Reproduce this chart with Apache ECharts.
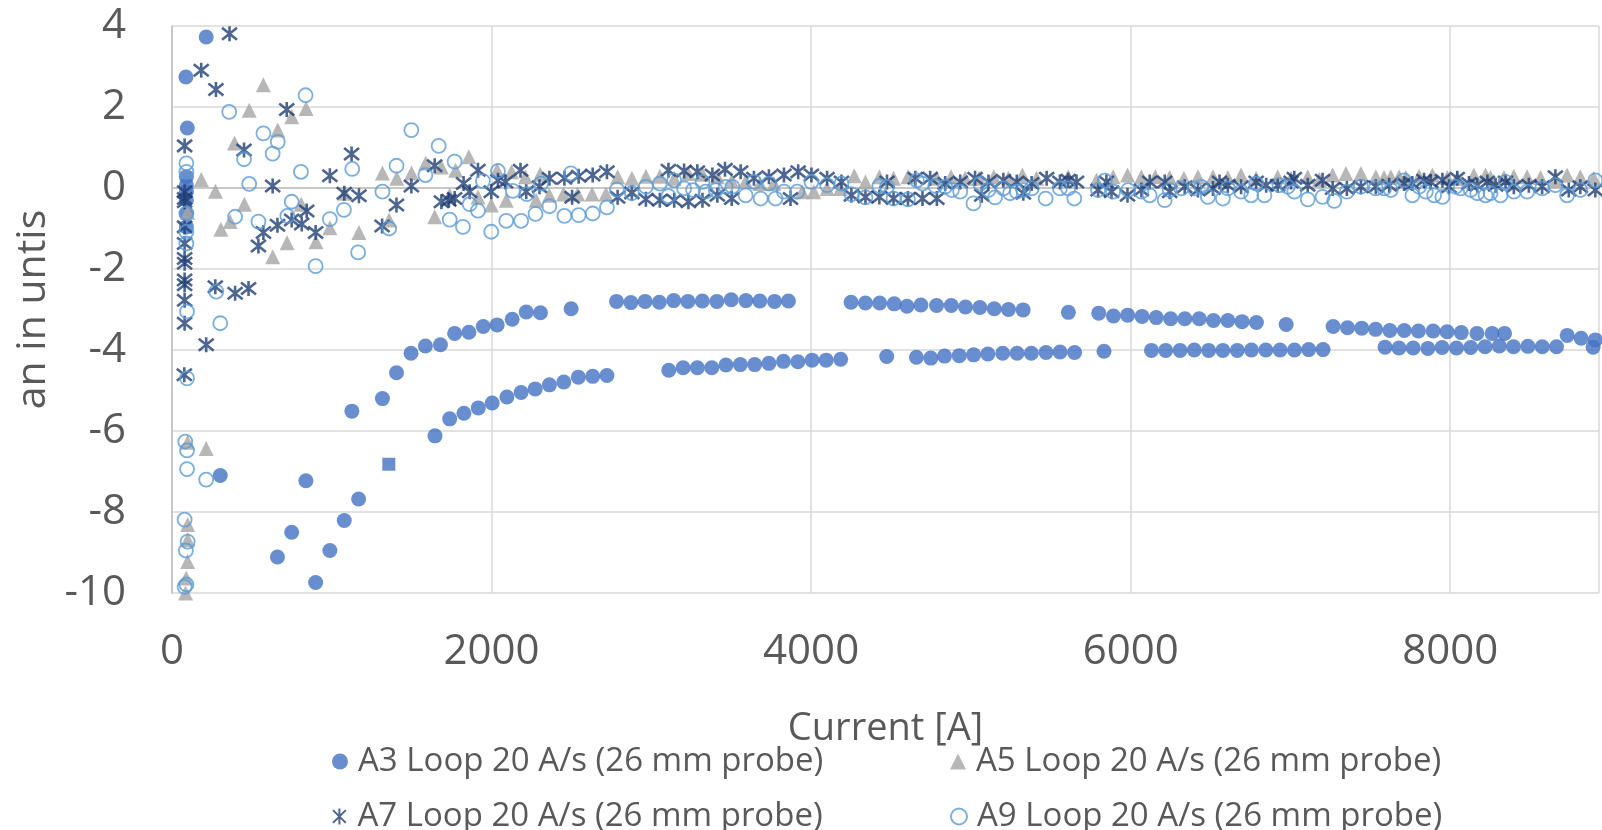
<!DOCTYPE html>
<html>
<head>
<meta charset="utf-8">
<title>an vs Current</title>
<script src="https://cdn.jsdelivr.net/npm/echarts@6/dist/echarts.min.js"></script>
<style>
  html, body { margin: 0; padding: 0; background: #ffffff; }
  #chart { width: 1602px; height: 830px; }
</style>
</head>
<body>
<div id="chart"></div>
<script>
// Axis setup
const xTicks = [0, 2000, 4000, 6000, 8000];
const yTicks = [-10, -8, -6, -4, -2, 0, 2, 4];

const seriesNames = [
  'A3 Loop 20 A/s (26 mm probe)',
  'A5 Loop 20 A/s (26 mm probe)',
  'A7 Loop 20 A/s (26 mm probe)',
  'A9 Loop 20 A/s (26 mm probe)'
];

// A3 – current [A] and an [units]
const a3Current = [
  87, 214, 96, 90, 90, 90, 90, 90, 90,
  302, 660, 749, 838, 899, 988, 1078, 1168, 1126, 1317, 1357, 1405, 1496, 1586, 1680, 1769, 1858, 1948, 2035, 2129, 2217, 2306, 2498,
  2782, 2872, 2961, 3050, 3140, 3229, 3319, 3410, 3500, 3592, 3679, 3771, 3858,
  4250, 4340, 4429, 4520, 4600, 4687, 4785, 4877, 4966, 5056, 5146, 5235, 5327, 5610, 5800, 5892, 5981, 6071, 6160, 6250, 6339, 6429, 6518, 6608, 6697, 6787, 6973,
  7267, 7357, 7446, 7533, 7622, 7712, 7801, 7893, 7980, 8069, 8167, 8262, 8340, 8732, 8819, 8908,
  1646, 1738, 1827, 1917, 2004, 2096, 2185, 2273, 2362, 2452, 2543, 2633, 2722,
  3109, 3199, 3288, 3378, 3467, 3557, 3647, 3736, 3827, 3917, 4006, 4094, 4185, 4473,
  4659, 4749, 4835, 4927, 5017, 5106, 5199, 5289, 5378, 5470, 5558, 5649, 5833,
  6130, 6219, 6309, 6398, 6488, 6577, 6667, 6756, 6846, 6935, 7025, 7114, 7204,
  7592, 7679, 7768, 7860, 7949, 8039, 8128, 8218, 8307, 8396, 8486, 8576, 8665, 8894
];
const a3Value = [
  2.74, 3.73, 1.48, 0.28, 0.07, -0.09, -0.30, -0.63, -0.96,
  -7.10, -9.11, -8.50, -7.23, -9.74, -8.95, -8.21, -7.68, -5.51, -5.20, -6.82, -4.56, -4.08, -3.90, -3.87, -3.59, -3.56, -3.42, -3.38, -3.24, -3.06, -3.08, -2.98,
  -2.80, -2.83, -2.80, -2.82, -2.78, -2.80, -2.79, -2.80, -2.76, -2.78, -2.79, -2.80, -2.79,
  -2.82, -2.84, -2.84, -2.86, -2.92, -2.89, -2.90, -2.90, -2.94, -2.95, -2.98, -3.00, -3.01, -3.07, -3.09, -3.16, -3.14, -3.17, -3.20, -3.23, -3.23, -3.23, -3.27, -3.27, -3.30, -3.32, -3.37,
  -3.42, -3.45, -3.46, -3.49, -3.52, -3.52, -3.53, -3.53, -3.55, -3.57, -3.59, -3.59, -3.59, -3.64, -3.71, -3.75,
  -6.12, -5.70, -5.56, -5.43, -5.31, -5.16, -5.05, -4.96, -4.86, -4.79, -4.67, -4.65, -4.63,
  -4.50, -4.44, -4.44, -4.44, -4.37, -4.36, -4.36, -4.33, -4.28, -4.29, -4.25, -4.25, -4.23, -4.16,
  -4.18, -4.20, -4.15, -4.14, -4.12, -4.10, -4.08, -4.08, -4.08, -4.06, -4.05, -4.06, -4.03,
  -4.01, -4.01, -4.01, -4.00, -4.01, -4.01, -4.01, -4.00, -4.00, -4.00, -4.00, -3.99, -3.99,
  -3.93, -3.95, -3.95, -3.96, -3.94, -3.95, -3.94, -3.92, -3.90, -3.92, -3.91, -3.92, -3.92, -3.93
];
// the one A3 reading shown with a square marker
const a3SquareIndex = 19;

// A5
const a5Current = [
  85, 89, 98, 98, 98, 98, 214, 98, 183, 272, 306, 364, 391, 453, 483, 572, 630, 662, 720, 749, 809, 839, 901, 988, 1080, 1170,
  1317, 1359, 1407, 1499, 1588, 1644, 1686, 1738, 1775, 1858, 1915, 1998, 2035, 2092, 2125, 2212, 2279, 2304, 2362,
  2450, 2539, 2629, 2716, 2789, 2878, 2966, 3053, 3143, 3232, 3320, 3413, 3503, 3590, 3680, 3767, 3944, 4017, 4100, 4183, 4270,
  4340, 4427, 4516, 4606, 4787, 4876, 4964, 5051, 5143, 5234, 5322, 5411, 5609, 5786, 5890, 5980, 6067, 6154, 6244, 6333, 6421, 6515, 6608, 6691, 6785,
  6920, 7004, 7108, 7181, 7264, 7347, 7441, 7534, 7586, 7628, 7680, 7722, 7805, 7888, 7982, 8044, 8148, 8221, 8252, 8336, 8398, 8481, 8565, 8658, 8731, 8814, 8898
];
const a5Value = [
  -10.0, -9.63, -9.22, -8.68, -8.31, -6.28, -6.43, -0.60, 0.21, -0.08, -1.02, -0.83, 1.11, -0.40, 1.92, 2.55, -1.70, 1.43, -1.35, 1.76, -0.40, 1.96, -1.33, -0.98, -0.13, -1.10,
  0.37, -0.79, 0.24, 0.37, 0.62, -0.71, 0.52, -0.18, 0.44, 0.77, -0.22, -0.42, 0.44, -0.30, 0.40, 0.28, -0.30, 0.34, -0.18,
  -0.15, -0.15, -0.15, -0.15, 0.28, 0.24, 0.29, 0.29, 0.24, 0.36, 0.34, 0.28, 0.17, 0.16, 0.11, 0.11, -0.09, -0.09, -0.01, -0.01, 0.30,
  0.15, 0.28, 0.24, 0.28, 0.24, 0.28, 0.24, 0.24, 0.28, 0.24, 0.32, 0.24, 0.28, 0.19, 0.28, 0.32, 0.28, 0.28, 0.26, 0.24, 0.28, 0.28, 0.26, 0.32, 0.24,
  0.28, 0.24, 0.28, 0.21, 0.32, 0.36, 0.36, 0.28, 0.26, 0.28, 0.28, 0.26, 0.29, 0.32, 0.26, 0.24, 0.32, 0.32, 0.26, 0.26, 0.29, 0.28, 0.26, 0.19, 0.32, 0.28, 0.24
];

// A7
const a7Current = [
  79, 79, 79, 79, 79, 79, 79, 79, 79, 79, 79, 79, 77,
  183, 214, 271, 275, 360, 395, 451, 479, 541, 572, 630, 660, 718, 749, 812, 843, 899, 988, 1078, 1124, 1170, 1315, 1405, 1498, 1644,
  1686, 1733, 1769, 1825, 1863, 1915, 1998, 2040, 2087, 2181, 2217, 2300, 2362, 2456, 2504, 2545, 2633, 2722,
  2789, 2878, 2966, 3053, 3107, 3143, 3205, 3232, 3288, 3320, 3382, 3413, 3461, 3503, 3559, 3642, 3736, 3830, 3871, 3919, 4002, 4100, 4190, 4252,
  4340, 4427, 4475, 4516, 4606, 4652, 4697, 4745, 4787, 4839, 4933, 5026, 5068, 5110, 5203, 5287, 5328, 5380, 5474, 5557, 5609, 5661,
  5796, 5848, 5880, 5980, 6067, 6119, 6213, 6244, 6338, 6421, 6515, 6556, 6608, 6691, 6785, 6848,
  6920, 7004, 7024, 7108, 7201, 7264, 7353, 7441, 7534, 7618, 7711, 7763, 7836, 7878, 7951, 7992, 8044, 8117, 8169, 8232, 8284, 8346, 8398, 8492, 8575, 8658, 8742, 8814, 8908
];
const a7Value = [
  1.04, -0.09, -0.26, -0.34, -0.96, -1.37, -1.74, -1.86, -2.27, -2.39, -2.77, -3.34, -4.61,
  2.91, -3.87, -2.44, 2.43, 3.81, -2.60, 0.94, -2.48, -1.43, -1.10, 0.05, -0.92, 1.94, -0.79, -0.89, -0.57, -1.10, 0.30, -0.13, 0.84, -0.19, -0.94, -0.42, 0.05, 0.55,
  -0.34, -0.30, -0.26, 0.11, -0.09, 0.44, -0.09, 0.19, 0.15, 0.44, -0.09, 0.03, 0.24, 0.24, -0.23, 0.29, 0.32, 0.40,
  -0.23, -0.12, -0.28, -0.30, 0.44, -0.30, 0.42, -0.34, 0.40, -0.30, 0.32, -0.18, 0.46, -0.26, 0.40, 0.24, 0.28, 0.32, -0.26, 0.40, 0.32, 0.24, 0.15, -0.18,
  -0.22, -0.22, 0.15, -0.26, -0.26, 0.24, -0.26, 0.24, -0.26, 0.11, 0.15, 0.24, -0.18, 0.15, 0.19, 0.15, -0.13, 0.11, 0.24, 0.15, 0.19, 0.15,
  -0.05, 0.15, -0.09, -0.18, -0.05, 0.15, 0.15, -0.09, 0.03, -0.05, -0.01, 0.15, 0.07, 0.03, 0.15, 0.07,
  0.07, 0.15, 0.24, 0.07, 0.19, -0.01, -0.01, 0.03, 0.03, 0.07, 0.11, 0.11, 0.19, 0.15, 0.19, 0.03, 0.24, 0.11, 0.07, 0.15, 0.07, 0.15, 0.03, 0.07, 0.03, 0.28, -0.05, 0.03, -0.05
];

// A9
const a9Current = [
  94, 302, 94, 83, 94, 94, 214, 79, 98, 87, 90, 79,
  90, 90, 90, 90, 90,
  277, 358, 395, 451, 483, 541, 572, 630, 662, 722, 749, 807, 836, 899, 988, 1076, 1128, 1165, 1317, 1359, 1405, 1498, 1586, 1669,
  1769, 1946, 2040, 2133, 2221, 2310, 2497, 1863, 1915, 1738, 1821, 1998, 2092, 2185, 2275, 2362, 2456, 2545, 2633, 2722,
  2785, 2878, 2966, 3053, 3143, 3107, 3205, 3261, 3320, 3340, 3403, 3465, 3507, 3590, 3642, 3684, 3736, 3777, 3830, 3913, 4002, 4100, 4190, 4252,
  4340, 4427, 4475, 4516, 4606, 4662, 4697, 4777, 4839, 4881, 4933, 5016, 5058, 5110, 5151, 5203, 5245, 5287, 5328, 5380, 5468, 5557, 5609, 5647,
  5796, 5838, 5890, 5984, 6067, 6119, 6213, 6244, 6317, 6400, 6442, 6483, 6577, 6608, 6691, 6754, 6785, 6837,
  6931, 6983, 7024, 7108, 7201, 7274, 7353, 7441, 7534, 7586, 7628, 7711, 7763, 7805, 7847, 7899, 7951, 8034, 8065, 8128, 8169, 8221, 8252, 8315, 8346, 8398, 8481, 8575, 8658, 8731, 8814, 8908
];
const a9Value = [
  -3.05, -3.34, -4.70, -6.26, -6.48, -6.94, -7.20, -8.19, -8.73, -8.95, -9.79, -9.85,
  0.61, 0.40, -0.63, -1.08, -1.37,
  -2.56, 1.88, -0.71, 0.71, 0.10, -0.83, 1.35, 0.85, 1.14, -0.69, -0.34, 0.40, 2.29, -1.93, -0.77, -0.54, 0.47, -1.59, -0.09, -1.00, 0.55, 1.43, 0.32, 1.04,
  0.65, 0.17, 0.42, -0.07, -0.15, 0.11, 0.36, -0.40, -0.56, -0.78, -0.96, -1.08, -0.81, -0.81, -0.64, -0.45, -0.69, -0.67, -0.63, -0.48,
  -0.04, -0.13, 0.03, 0.11, 0.19, -0.20, -0.01, -0.05, 0.15, -0.09, -0.05, 0.03, 0.03, -0.18, 0.15, -0.26, 0.11, -0.26, -0.09, -0.09, 0.15, 0.07, 0.11, -0.15,
  -0.23, 0.05, 0.03, -0.26, -0.28, 0.19, 0.11, 0.05, 0.03, -0.05, -0.09, -0.38, 0.11, -0.05, -0.23, -0.01, -0.13, -0.09, -0.05, -0.01, -0.26, -0.01, -0.01, -0.26,
  -0.05, 0.18, -0.09, -0.05, -0.09, -0.18, -0.30, -0.05, -0.01, -0.01, 0.03, -0.22, -0.26, -0.01, -0.09, -0.18, 0.11, -0.18,
  0.07, 0.03, -0.09, -0.28, -0.22, -0.32, -0.09, 0.03, -0.01, -0.01, -0.05, 0.19, -0.18, 0.03, -0.09, -0.18, -0.22, 0.03, -0.01, -0.05, -0.13, -0.18, -0.13, -0.18, 0.15, -0.09, -0.09, -0.01, 0.07, -0.18, -0.05, 0.19
];

const colors = ['#4472C4', '#A5A5A5', '#203F75', '#5B9BD5'];
const FONT = "'Open Sans', 'Noto Sans', sans-serif";
const TEXT_COLOR = '#595959';
// asterisk marker: vertical bar crossed by an X
const STAR = 'path://M5,0L5,10M1,1L9,9M1,9L9,1';

function pairs(xs, ys) {
  return xs.map((x, i) => [x, ys[i]]);
}

const a3Data = pairs(a3Current, a3Value).map((p, i) =>
  i === a3SquareIndex ? { value: p, symbol: 'rect', symbolSize: 13 } : p
);

const chart = echarts.init(document.getElementById('chart'), null, { renderer: 'canvas' });

function legendAt(name, left, top) {
  return {
    data: [name],
    left: left,
    top: top,
    orient: 'horizontal',
    itemWidth: 16,
    itemHeight: 16,
    itemGap: 0,
    padding: 0,
    textStyle: { fontFamily: FONT, fontSize: 33, color: TEXT_COLOR, padding: [0, 0, 0, 5] }
  };
}

chart.setOption({
  animation: false,
  backgroundColor: '#ffffff',
  color: colors,
  legend: [
    legendAt(seriesNames[0], 332, 745),
    legendAt(seriesNames[1], 950, 745),
    legendAt(seriesNames[2], 332, 800),
    legendAt(seriesNames[3], 950, 800)
  ],
  grid: { left: 172, top: 26, right: 0, bottom: 237, containLabel: false },
  xAxis: {
    type: 'value',
    min: xTicks[0],
    max: 8931,
    interval: xTicks[1] - xTicks[0],
    name: 'Current [A]',
    nameLocation: 'middle',
    nameGap: 117,
    nameTextStyle: { fontFamily: FONT, fontSize: 38, color: TEXT_COLOR },
    axisLine: { show: true, lineStyle: { color: '#BFBFBF', width: 1.5 } },
    axisTick: { show: false },
    axisLabel: {
      fontFamily: FONT, fontSize: 42, color: TEXT_COLOR, margin: 38,
      formatter: v => (xTicks.indexOf(v) >= 0 ? String(v) : '')
    },
    splitLine: { show: true, lineStyle: { color: '#D9D9D9', width: 1.5 } }
  },
  yAxis: {
    type: 'value',
    min: yTicks[0],
    max: yTicks[yTicks.length - 1],
    interval: yTicks[1] - yTicks[0],
    name: 'an in untis',
    nameLocation: 'middle',
    nameGap: 113,
    nameTextStyle: { fontFamily: FONT, fontSize: 41, color: TEXT_COLOR },
    axisLine: { show: true, lineStyle: { color: '#BFBFBF', width: 1.5 } },
    axisTick: { show: false },
    axisLabel: { fontFamily: FONT, fontSize: 42, color: TEXT_COLOR, margin: 46 },
    splitLine: { show: true, lineStyle: { color: '#D9D9D9', width: 1.5 } }
  },
  series: [
    {
      name: seriesNames[0],
      type: 'scatter',
      clip: false,
      symbol: 'circle',
      symbolSize: 15,
      itemStyle: { color: colors[0] },
      data: a3Data
    },
    {
      name: seriesNames[1],
      type: 'scatter',
      clip: false,
      symbol: 'triangle',
      symbolSize: 15,
      itemStyle: { color: colors[1] },
      data: pairs(a5Current, a5Value)
    },
    {
      name: seriesNames[2],
      type: 'scatter',
      clip: false,
      symbol: STAR,
      symbolSize: 15,
      itemStyle: { color: 'rgba(0,0,0,0)', borderColor: colors[2], borderWidth: 2.6 },
      data: pairs(a7Current, a7Value)
    },
    {
      name: seriesNames[3],
      type: 'scatter',
      clip: false,
      symbol: 'circle',
      symbolSize: 14,
      itemStyle: { color: 'rgba(0,0,0,0)', borderColor: colors[3], borderWidth: 1.8 },
      data: pairs(a9Current, a9Value)
    }
  ]
});
</script>
</body>
</html>
